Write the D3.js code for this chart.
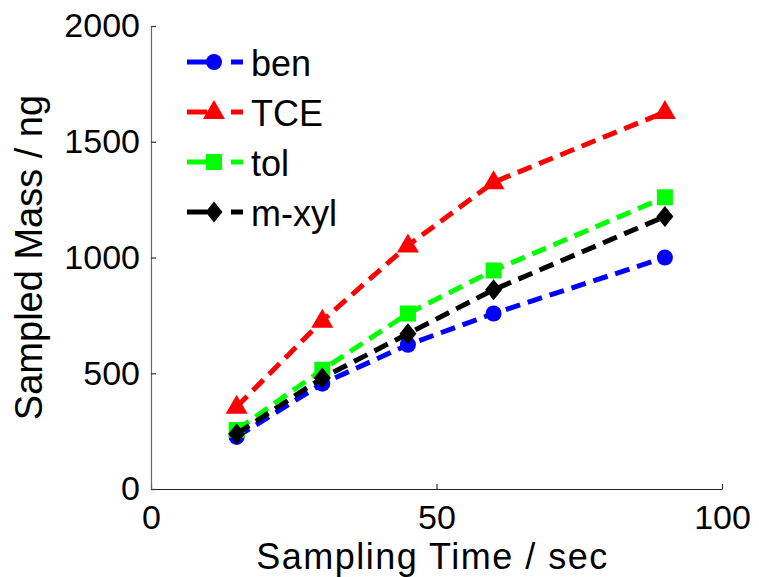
<!DOCTYPE html>
<html>
<head>
<meta charset="utf-8">
<script src="https://cdn.jsdelivr.net/npm/d3@7"></script>
<style>
  html, body { margin: 0; padding: 0; background: #fff; }
  svg { display: block; font-family: Arial, "Liberation Sans", sans-serif; }
</style>
</head>
<body>
<svg id="chart" width="759" height="577"></svg>
<script>
// Sampling times (sec)
const times = [15, 30, 45, 60, 90];
// Sampled mass (ng) for each compound
const ben  = [225, 455, 623, 758, 1000];
const tce  = [355, 727, 1052, 1325, 1628];
const tol  = [255, 515, 758, 944, 1260];
const mxyl = [238, 480, 671, 861, 1177];

const seriesNames = ["ben", "TCE", "tol", "m-xyl"];
const seriesColors = ["#0000ff", "#ff0000", "#00ff00", "#000000"];
const seriesMarkers = ["circle", "triangle", "square", "diamond"];
const seriesValues = [ben, tce, tol, mxyl];

const xTicks = [0, 50, 100];
const yTicks = [0, 500, 1000, 1500, 2000];

const svg = d3.select("#chart");
const plotLeft = 151, plotRight = 722, plotTop = 26, plotBottom = 489;

const x = d3.scaleLinear().domain([0, 100]).range([plotLeft, plotRight]);
const y = d3.scaleLinear().domain([0, 2000]).range([plotBottom, plotTop]);

// Axes: ticks point inward, MATLAB style
const xAxis = svg.append("g")
  .attr("transform", `translate(0,${plotBottom})`)
  .call(d3.axisBottom(x).tickValues(xTicks).tickFormat(d3.format("d"))
    .tickSizeInner(-5).tickSizeOuter(0).tickPadding(16));
const yAxis = svg.append("g")
  .attr("transform", `translate(${plotLeft},0)`)
  .call(d3.axisLeft(y).tickValues(yTicks).tickFormat(d3.format("d"))
    .tickSizeInner(-5).tickSizeOuter(0).tickPadding(11));

xAxis.select(".domain").attr("stroke", "#222").attr("stroke-width", 1.2);
yAxis.select(".domain").attr("stroke", "#666").attr("stroke-width", 1.2);
[xAxis, yAxis].forEach(g => {
  g.selectAll(".tick line").attr("stroke", "#333").attr("stroke-width", 1.2);
  g.selectAll(".tick text").attr("fill", "#000").style("font-size", "34px")
    .style("font-family", "Arial, 'Liberation Sans', sans-serif");
});
xAxis.selectAll(".tick text").attr("dy", "0.71em");
yAxis.selectAll(".tick text").attr("dy", "0.32em");

// Axis titles
svg.append("text")
  .attr("x", (plotLeft + plotRight) / 2 - 4).attr("y", 569)
  .attr("text-anchor", "middle")
  .style("font-size", "36px")
  .style("letter-spacing", "1.5px")
  .text("Sampling Time / sec");
svg.append("text")
  .attr("transform", `translate(42,${(plotTop + plotBottom) / 2}) rotate(-90)`)
  .attr("text-anchor", "middle")
  .style("font-size", "38px")
  .text("Sampled Mass / ng");

// Marker drawing helper
function drawMarker(g, type, cx, cy, color) {
  if (type === "circle") {
    g.append("circle").attr("cx", cx).attr("cy", cy).attr("r", 8).attr("fill", color);
  } else if (type === "square") {
    g.append("rect").attr("x", cx - 8).attr("y", cy - 8).attr("width", 16).attr("height", 16).attr("fill", color);
  } else if (type === "triangle") {
    g.append("path").attr("d", `M${cx},${cy - 12} L${cx + 11},${cy + 7} L${cx - 11},${cy + 7} Z`).attr("fill", color);
  } else if (type === "diamond") {
    g.append("path").attr("d", `M${cx},${cy - 10.5} L${cx + 8.5},${cy} L${cx},${cy + 10.5} L${cx - 8.5},${cy} Z`).attr("fill", color);
  }
}

const line = d3.line().x(d => x(d[0])).y(d => y(d[1]));

seriesValues.forEach((vals, i) => {
  const pts = times.map((t, j) => [t, vals[j]]);
  const g = svg.append("g");
  g.append("path")
    .attr("d", line(pts))
    .attr("fill", "none")
    .attr("stroke", seriesColors[i])
    .attr("stroke-width", 5)
    .attr("stroke-dasharray", "15,8");
  pts.forEach(p => drawMarker(g, seriesMarkers[i], x(p[0]), y(p[1]), seriesColors[i]));
});

// Legend
const legend = svg.append("g");
seriesNames.forEach((name, i) => {
  const ly = 62 + i * 50;
  [[187, 207], [231, 243]].forEach(seg => {
    legend.append("line")
      .attr("x1", seg[0]).attr("x2", seg[1]).attr("y1", ly).attr("y2", ly)
      .attr("stroke", seriesColors[i]).attr("stroke-width", 5);
  });
  drawMarker(legend, seriesMarkers[i], 214, ly, seriesColors[i]);
  legend.append("text")
    .attr("x", 251).attr("y", ly + 14)
    .style("font-size", "36px")
    .text(name);
});
</script>
</body>
</html>
